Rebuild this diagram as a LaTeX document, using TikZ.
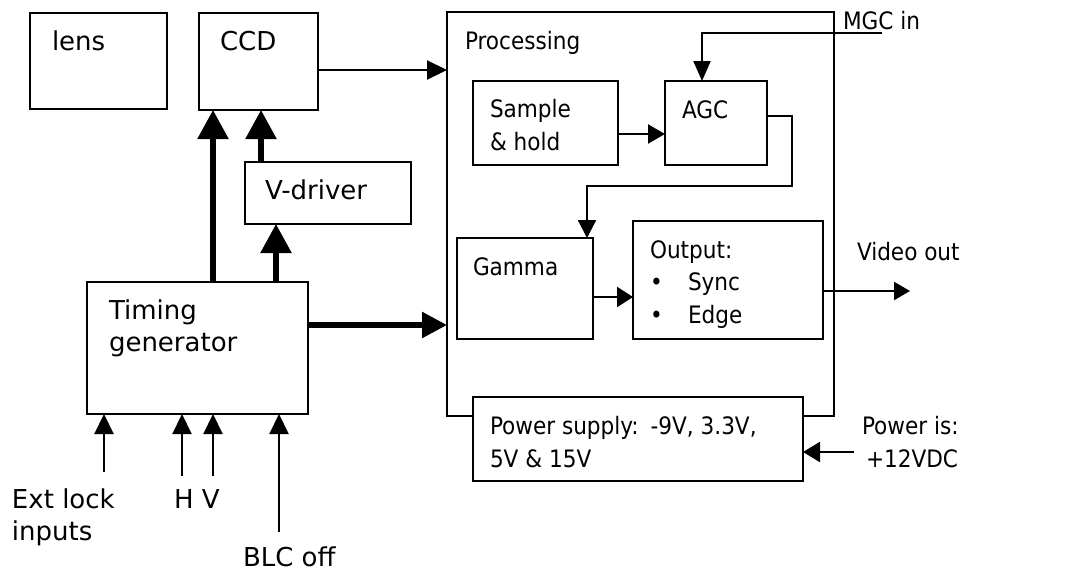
\documentclass[tikz,border=0pt]{standalone}
\usepackage{fontspec}
\setmainfont{DejaVu Sans}
\newfontfamily\condfont{DejaVu Sans Condensed}
\usetikzlibrary{arrows.meta,calc}
\newcommand\lfnt{\fontsize{26}{32}\selectfont}
\newcommand\rfnt{\condfont\fontsize{24}{32.5}\selectfont}
\begin{document}
\begin{tikzpicture}[x=1pt,y=-1pt,
  box/.style={draw, line width=2.2pt, rectangle, inner sep=0pt, outer sep=0pt, anchor=north west},
  lbl/.style={inner sep=0pt, outer sep=0pt, anchor=base west, align=left, font=\lfnt},
  rlbl/.style={inner sep=0pt, outer sep=0pt, anchor=base west, align=left, font=\rfnt},
  thinarrow/.style={line width=2.2pt, -{Triangle[length=20pt,width=19pt]}},
  thickarrow/.style={line width=5.5pt, -{Triangle[length=29pt,width=30pt]}}]
\useasboundingbox (0,0) rectangle (1089,571);
% boxes
\node[box, minimum width=137pt, minimum height=96pt] (lens) at (30,13) {};
\node[box, minimum width=119pt, minimum height=97pt] (ccd) at (199,13) {};
\node[box, minimum width=166pt, minimum height=62pt] (vdrv) at (245,162) {};
\node[box, minimum width=221pt, minimum height=132pt] (timing) at (87,282) {};
\node[box, minimum width=387pt, minimum height=404pt] (proc) at (447,12) {};
\node[box, minimum width=145pt, minimum height=84pt] (sh) at (473,81) {};
\node[box, minimum width=102pt, minimum height=84pt] (agc) at (665,81) {};
\node[box, minimum width=136pt, minimum height=101pt] (gamma) at (457,238) {};
\node[box, minimum width=190pt, minimum height=118pt] (output) at (633,221) {};
\node[box, fill=white, minimum width=330pt, minimum height=84pt] (power) at (473,397) {};
% labels (multi-line labels are placed at the baseline of their last line)
\node[lbl] (lenst) at (52,50) {lens};
\node[lbl] (ccdt) at (220,50) {CCD};
\node[lbl] (vdrvt) at (265,199) {V-driver};
\node[lbl] (timingt) at (109,351) {Timing\\generator};
\node[lbl] (extt) at (12,540) {Ext lock\\inputs};
\node[lbl] (hvt) at (174,508) {H V};
\node[lbl] (blct) at (243,566) {BLC off};
\node[rlbl] (proct) at (465,49) {Processing};
\node[rlbl] (mgct) at (843,29) {MGC in};
\node[rlbl] (sht) at (490,150) {Sample\\\& hold};
\node[rlbl] (agct) at (682,118) {AGC};
\node[rlbl] (gammat) at (473,275) {Gamma};
\node[rlbl] (outputt) at (650,323) {Output:\\\makebox[38pt][l]{•}Sync\\\makebox[38pt][l]{•}Edge};
\node[rlbl] (videot) at (857,260) {Video out};
\node[rlbl] (powert) at (490,467) {Power supply:\enspace-9V, 3.3V,\\5V \& 15V};
\node[rlbl] (pwrist) at (862,467) {Power is:\\\,+12VDC};
% free ends
\coordinate (mgcin) at (882,33);
\coordinate (vout) at (910,291);
\coordinate (pin) at (854,452);
\coordinate (extin) at (104,472);
\coordinate (hin) at (182,476);
\coordinate (vin) at (213,476);
\coordinate (blcin) at (279,532);
% connectors
\draw[thinarrow] (ccd.east |- 0,70) -- (proc.west |- 0,70);
\draw[thickarrow] (timing.north -| 213,0) -- (ccd.south -| 213,0);
\draw[thickarrow] (vdrv.north -| 261,0) -- (ccd.south -| 261,0);
\draw[thickarrow] (timing.north -| 276,0) -- (vdrv.south -| 276,0);
\draw[line width=5.5pt, -{Triangle[length=25pt,width=25pt]}] (timing.east |- 0,325) -- (proc.west |- 0,325);
\draw[thinarrow] (extin) -- (extin |- timing.south);
\draw[thinarrow] (hin) -- (hin |- timing.south);
\draw[thinarrow] (vin) -- (vin |- timing.south);
\draw[thinarrow] (blcin) -- (blcin |- timing.south);
\draw[line width=2.2pt, -{Triangle[length=20pt,width=17pt]}] (mgcin) -| (agc.north -| 702,0);
\draw[line width=2.2pt, -{Triangle[length=17pt,width=19pt]}] (sh.east |- 0,134) -- (agc.west |- 0,134);
\draw[line width=2.2pt, -{Triangle[length=18pt,width=18pt]}] (agc.east |- 0,116) -| (792,186) -| (gamma.north -| 587,0);
\draw[line width=2.2pt, -{Triangle[length=16pt,width=20pt]}] (gamma.east |- 0,297) -- (output.west |- 0,297);
\draw[line width=2.2pt, -{Triangle[length=16pt,width=18pt]}] (output.east |- 0,291) -- (vout);
\draw[line width=2.2pt, -{Triangle[length=17pt,width=20pt]}] (pin) -- (power.east |- pin);
\end{tikzpicture}
\end{document}
